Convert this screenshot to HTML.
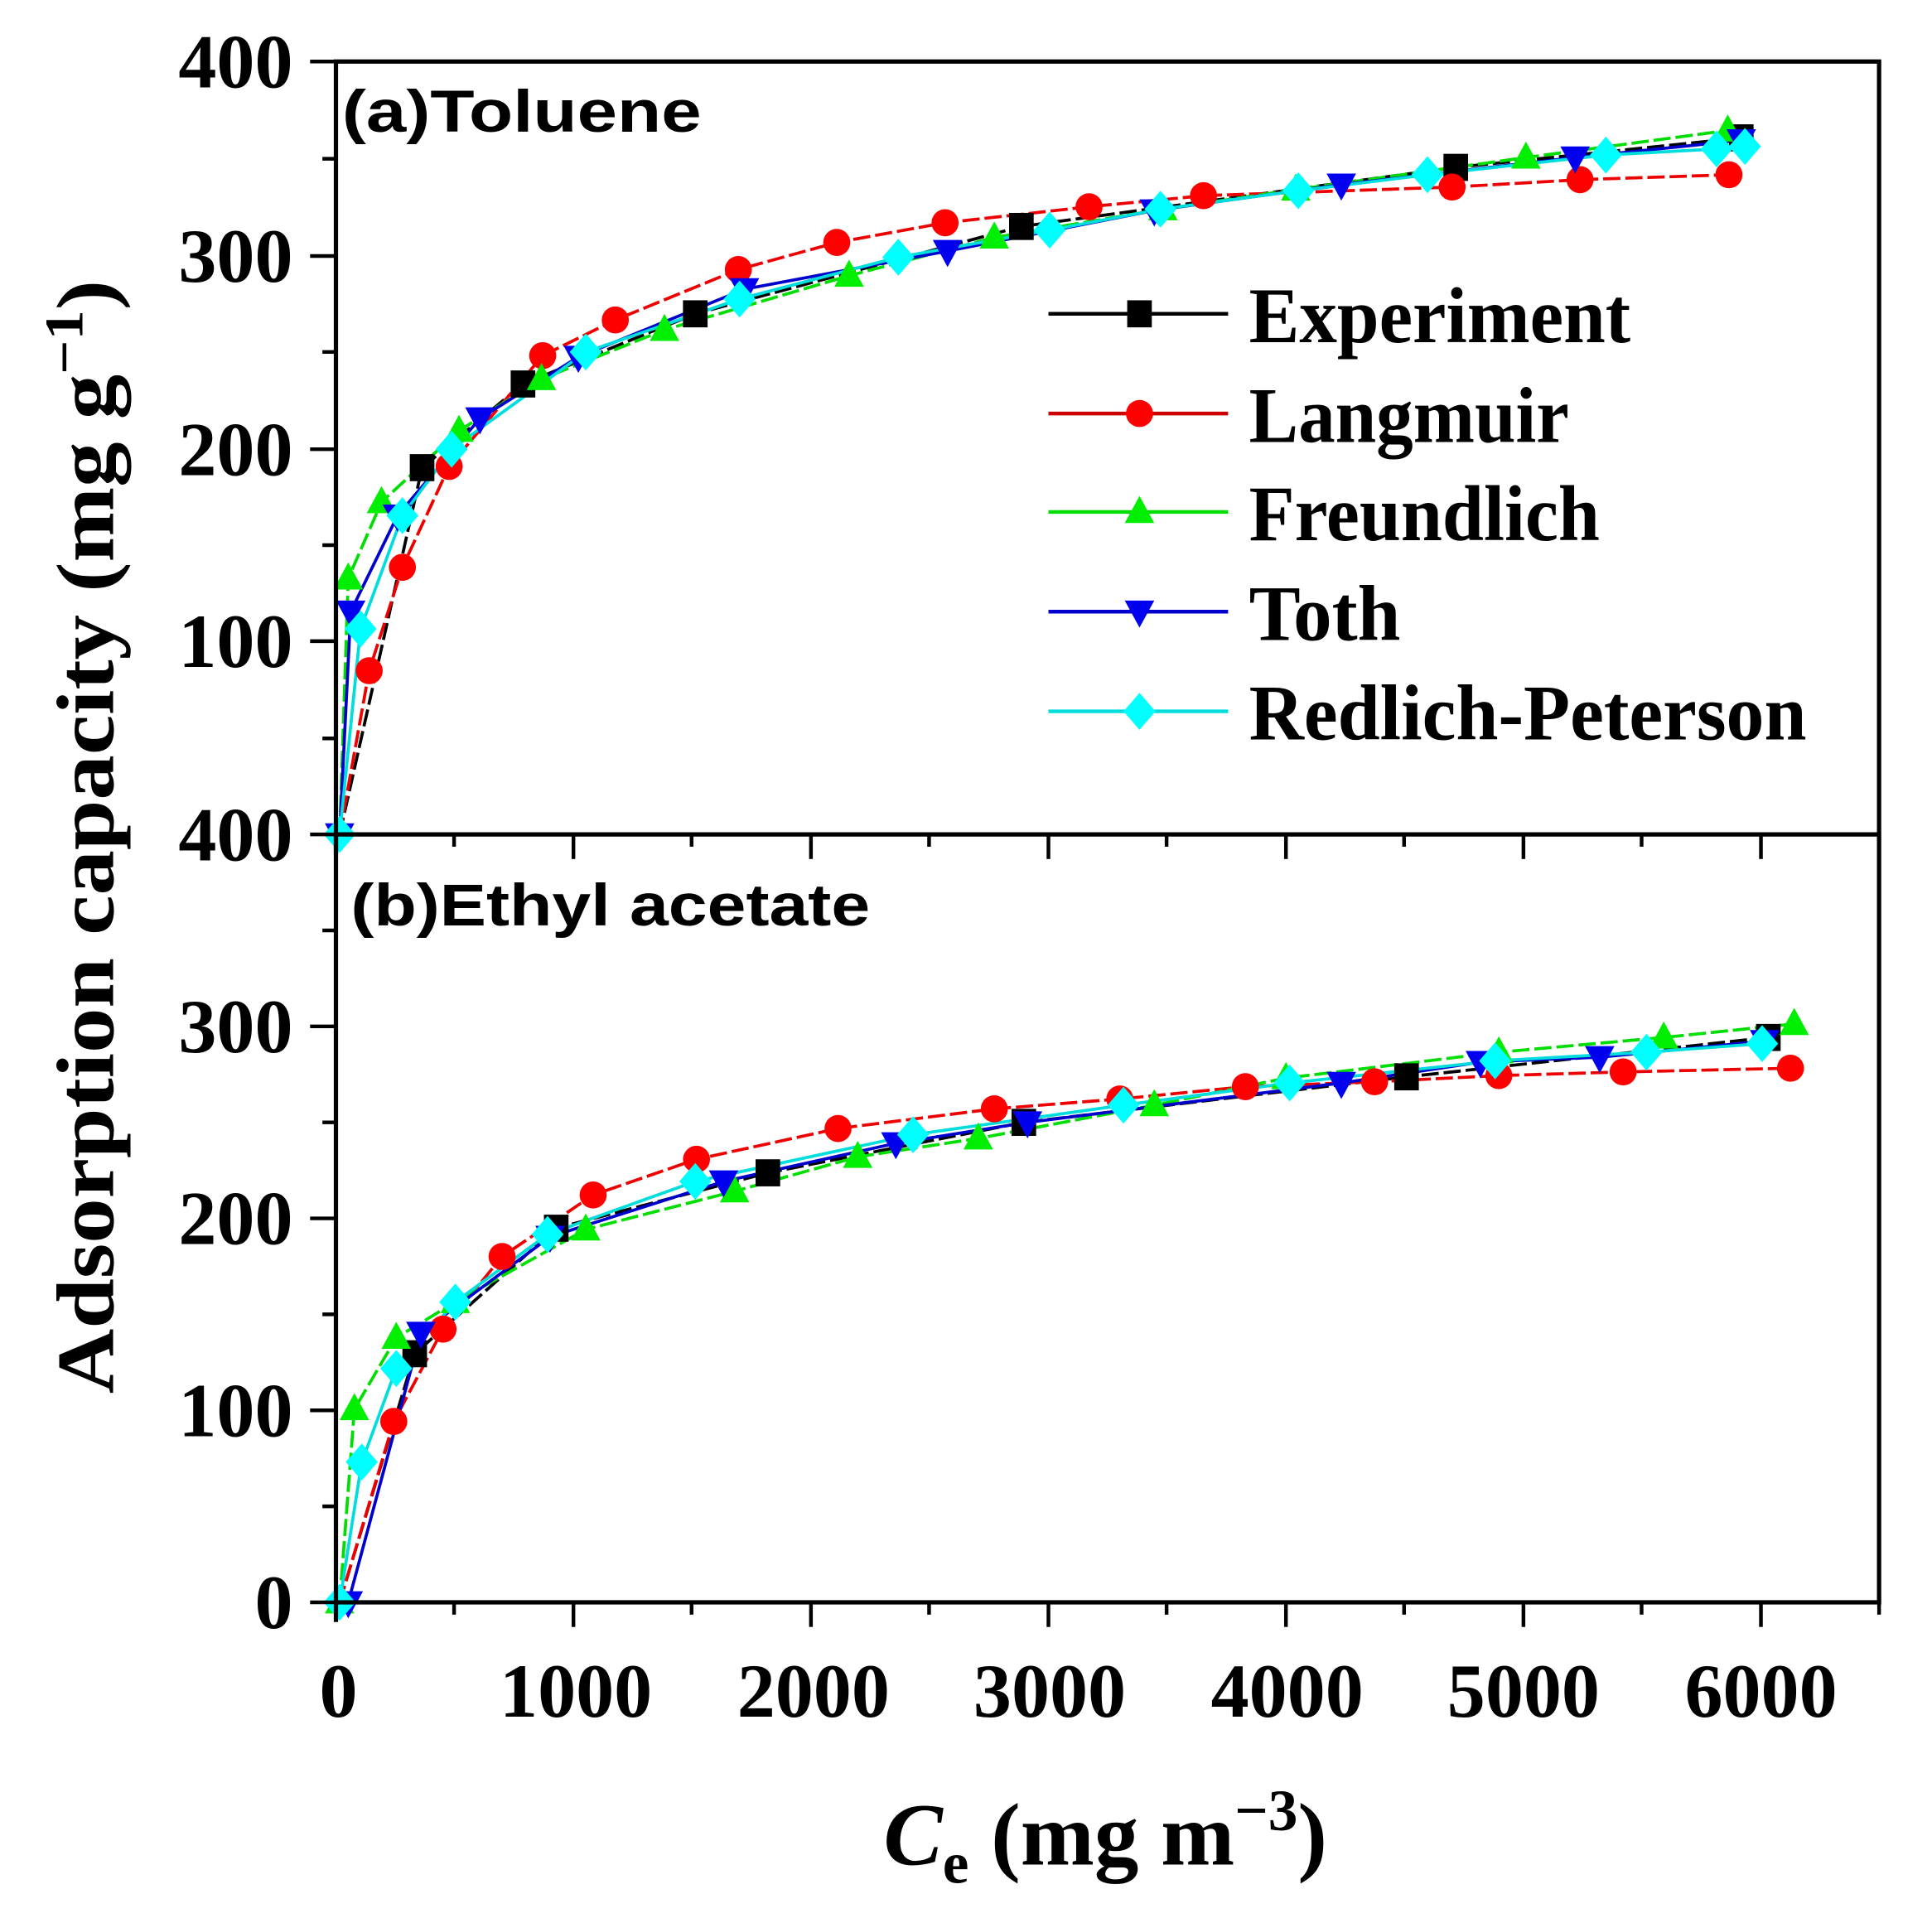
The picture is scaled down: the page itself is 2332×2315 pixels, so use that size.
<!DOCTYPE html>
<html><head><meta charset="utf-8"><style>html,body{margin:0;padding:0;background:#fff}svg{display:block}</style></head>
<body>
<svg width="2332" height="2315" viewBox="0 0 1570 1558.5" preserveAspectRatio="none" xmlns="http://www.w3.org/2000/svg">
<defs>
<rect id="sq" x="-10" y="-11" width="20" height="22" fill="#000"/>
<circle id="ci" r="11" fill="#f00"/>
<polygon id="tu" points="0,-13 12,9 -12,9" fill="#0e0"/>
<polygon id="td" points="0,13 12,-9 -12,-9" fill="#00e"/>
<polygon id="di" points="0,-15 13,0 0,15 -13,0" fill="#0ff"/>
</defs>
<g fill="none" stroke-width="2.5">
<polyline stroke="#000" stroke-dasharray="14 4" points="276,678 343,380 425,312 565,255 830,184 1183,136 1415,112"/>
<polyline stroke="#e00" stroke-dasharray="14 4" points="276,678 300,545 327,461 365,379 441,289 500,260 600,219 680,197 768,181 885,168 978,159 1180,152 1284,146 1405,142"/>
<polyline stroke="#0d0" stroke-dasharray="14 4" points="276,678 283,470 310,408 373,350 440,308 540,268 690,224 808,193 945,170 1053,154 1240,128 1404,106"/>
<polyline stroke="#00c" points="276,678 285,497 323,419 390,340 470,290 605,235 770,204 938,171 1090,150 1280,128 1415,114"/>
<polyline stroke="#0dd" points="276,678 293,511 327,419 367,365 476,286 601,243 730,209 853,187 943,170 1055,155 1160,142 1305,126 1395,121 1418,119"/>
<polyline stroke="#000" stroke-dasharray="14 4" points="276,1302 337,1100 452,998 624,953 832,912 1143,875 1437,843"/>
<polyline stroke="#e00" stroke-dasharray="14 4" points="276,1302 320,1155 360,1080 408,1021 482,971 566,942 681,917 808,901 910,893 1012,883 1117,879 1218,874 1319,871 1455,868"/>
<polyline stroke="#0d0" stroke-dasharray="14 4" points="276,1302 288,1145 322,1087 370,1058 476,999 597,968 697,940 795,925 938,898 1045,876 1218,855 1352,843 1458,832"/>
<polyline stroke="#00c" points="283,1302 342,1083 447,1005 588,960 728,929 835,912 1090,880 1203,863 1300,859 1434,846"/>
<polyline stroke="#0dd" points="276,1302 294,1188 322,1112 370,1058 445,1003 565,960 742,922 913,898 1048,880 1215,862 1338,855 1432,848"/>
</g>
<g>
<use href="#sq" x="343" y="380"/><use href="#sq" x="425" y="312"/><use href="#sq" x="565" y="255"/><use href="#sq" x="830" y="184"/><use href="#sq" x="1183" y="136"/><use href="#sq" x="1415" y="112"/>
<use href="#ci" x="300" y="545"/><use href="#ci" x="327" y="461"/><use href="#ci" x="365" y="379"/><use href="#ci" x="441" y="289"/><use href="#ci" x="500" y="260"/><use href="#ci" x="600" y="219"/><use href="#ci" x="680" y="197"/><use href="#ci" x="768" y="181"/><use href="#ci" x="885" y="168"/><use href="#ci" x="978" y="159"/><use href="#ci" x="1180" y="152"/><use href="#ci" x="1284" y="146"/><use href="#ci" x="1405" y="142"/>
<use href="#tu" x="283" y="470"/><use href="#tu" x="310" y="408"/><use href="#tu" x="373" y="350"/><use href="#tu" x="440" y="308"/><use href="#tu" x="540" y="268"/><use href="#tu" x="690" y="224"/><use href="#tu" x="808" y="193"/><use href="#tu" x="945" y="170"/><use href="#tu" x="1053" y="154"/><use href="#tu" x="1240" y="128"/><use href="#tu" x="1404" y="106"/>
<use href="#td" x="276" y="678"/><use href="#td" x="285" y="497"/><use href="#td" x="323" y="419"/><use href="#td" x="390" y="340"/><use href="#td" x="470" y="290"/><use href="#td" x="605" y="235"/><use href="#td" x="770" y="204"/><use href="#td" x="938" y="171"/><use href="#td" x="1090" y="150"/><use href="#td" x="1280" y="128"/><use href="#td" x="1415" y="114"/>
<use href="#di" x="276" y="678"/><use href="#di" x="293" y="511"/><use href="#di" x="327" y="419"/><use href="#di" x="367" y="365"/><use href="#di" x="476" y="286"/><use href="#di" x="601" y="243"/><use href="#di" x="730" y="209"/><use href="#di" x="853" y="187"/><use href="#di" x="943" y="170"/><use href="#di" x="1055" y="155"/><use href="#di" x="1160" y="142"/><use href="#di" x="1305" y="126"/><use href="#di" x="1395" y="121"/><use href="#di" x="1418" y="119"/>
</g>
<g>
<use href="#sq" x="337" y="1100"/><use href="#sq" x="452" y="998"/><use href="#sq" x="624" y="953"/><use href="#sq" x="832" y="912"/><use href="#sq" x="1143" y="875"/><use href="#sq" x="1437" y="843"/>
<use href="#ci" x="320" y="1155"/><use href="#ci" x="360" y="1080"/><use href="#ci" x="408" y="1021"/><use href="#ci" x="482" y="971"/><use href="#ci" x="566" y="942"/><use href="#ci" x="681" y="917"/><use href="#ci" x="808" y="901"/><use href="#ci" x="910" y="893"/><use href="#ci" x="1012" y="883"/><use href="#ci" x="1117" y="879"/><use href="#ci" x="1218" y="874"/><use href="#ci" x="1319" y="871"/><use href="#ci" x="1455" y="868"/>
<use href="#tu" x="276" y="1302"/><use href="#tu" x="288" y="1145"/><use href="#tu" x="322" y="1087"/><use href="#tu" x="370" y="1058"/><use href="#tu" x="476" y="999"/><use href="#tu" x="597" y="968"/><use href="#tu" x="697" y="940"/><use href="#tu" x="795" y="925"/><use href="#tu" x="938" y="898"/><use href="#tu" x="1045" y="876"/><use href="#tu" x="1218" y="855"/><use href="#tu" x="1352" y="843"/><use href="#tu" x="1458" y="832"/>
<use href="#td" x="283" y="1302"/><use href="#td" x="342" y="1083"/><use href="#td" x="447" y="1005"/><use href="#td" x="588" y="960"/><use href="#td" x="728" y="929"/><use href="#td" x="835" y="912"/><use href="#td" x="1090" y="880"/><use href="#td" x="1203" y="863"/><use href="#td" x="1300" y="859"/><use href="#td" x="1434" y="846"/>
<use href="#di" x="276" y="1302"/><use href="#di" x="294" y="1188"/><use href="#di" x="322" y="1112"/><use href="#di" x="370" y="1058"/><use href="#di" x="445" y="1003"/><use href="#di" x="565" y="960"/><use href="#di" x="742" y="922"/><use href="#di" x="913" y="898"/><use href="#di" x="1048" y="880"/><use href="#di" x="1215" y="862"/><use href="#di" x="1338" y="855"/><use href="#di" x="1432" y="848"/>
</g>
<g stroke="#000" stroke-width="3.5" fill="none">
<rect x="273" y="50" width="1254" height="1252"/>
<line x1="273" y1="678" x2="1527" y2="678"/>
<line x1="273" y1="1302" x2="273" y2="1318"/>
<line x1="273" y1="678" x2="273" y2="694"/>
</g>
<g stroke="#000" stroke-width="3">
<line x1="252" y1="50" x2="273" y2="50"/><line x1="252" y1="208" x2="273" y2="208"/><line x1="252" y1="365" x2="273" y2="365"/><line x1="252" y1="521" x2="273" y2="521"/><line x1="252" y1="678" x2="273" y2="678"/>
<line x1="252" y1="834" x2="273" y2="834"/><line x1="252" y1="990" x2="273" y2="990"/><line x1="252" y1="1146" x2="273" y2="1146"/><line x1="252" y1="1302" x2="273" y2="1302"/>
<line x1="262" y1="129" x2="273" y2="129"/><line x1="262" y1="286" x2="273" y2="286"/><line x1="262" y1="443" x2="273" y2="443"/><line x1="262" y1="600" x2="273" y2="600"/>
<line x1="262" y1="756" x2="273" y2="756"/><line x1="262" y1="912" x2="273" y2="912"/><line x1="262" y1="1068" x2="273" y2="1068"/><line x1="262" y1="1224" x2="273" y2="1224"/>
<line x1="466" y1="1302" x2="466" y2="1322"/><line x1="659" y1="1302" x2="659" y2="1322"/><line x1="852" y1="1302" x2="852" y2="1322"/><line x1="1045" y1="1302" x2="1045" y2="1322"/><line x1="1238" y1="1302" x2="1238" y2="1322"/><line x1="1431" y1="1302" x2="1431" y2="1322"/>
<line x1="369" y1="1302" x2="369" y2="1312"/><line x1="562" y1="1302" x2="562" y2="1312"/><line x1="755" y1="1302" x2="755" y2="1312"/><line x1="948" y1="1302" x2="948" y2="1312"/><line x1="1141" y1="1302" x2="1141" y2="1312"/><line x1="1334" y1="1302" x2="1334" y2="1312"/><line x1="1527" y1="1302" x2="1527" y2="1312"/>
<line x1="466" y1="678" x2="466" y2="698"/><line x1="659" y1="678" x2="659" y2="698"/><line x1="852" y1="678" x2="852" y2="698"/><line x1="1045" y1="678" x2="1045" y2="698"/><line x1="1238" y1="678" x2="1238" y2="698"/><line x1="1431" y1="678" x2="1431" y2="698"/>
<line x1="369" y1="678" x2="369" y2="688"/><line x1="562" y1="678" x2="562" y2="688"/><line x1="755" y1="678" x2="755" y2="688"/><line x1="948" y1="678" x2="948" y2="688"/><line x1="1141" y1="678" x2="1141" y2="688"/><line x1="1334" y1="678" x2="1334" y2="688"/>
</g>
<g font-family="Liberation Serif, serif" font-weight="bold" font-size="62" fill="#000" text-anchor="end">
<text x="238" y="71">400</text><text x="238" y="229">300</text><text x="238" y="386">200</text><text x="238" y="542">100</text><text x="238" y="699">400</text>
<text x="238" y="855">300</text><text x="238" y="1011">200</text><text x="238" y="1167">100</text><text x="238" y="1323">0</text>
</g>
<g font-family="Liberation Serif, serif" font-weight="bold" font-size="62" fill="#000" text-anchor="middle">
<text x="275" y="1395">0</text><text x="468" y="1395">1000</text><text x="661" y="1395">2000</text><text x="853" y="1395">3000</text><text x="1046" y="1395">4000</text><text x="1238" y="1395">5000</text><text x="1431" y="1395">6000</text>
</g>
<g font-family="Liberation Sans, sans-serif" font-weight="bold" font-size="48" fill="#000">
<text x="278" y="107" textLength="292" lengthAdjust="spacingAndGlyphs">(a)Toluene</text>
<text x="285" y="752" textLength="422" lengthAdjust="spacingAndGlyphs">(b)Ethyl acetate</text>
</g>
<g stroke-width="3">
<line x1="852" y1="255" x2="998" y2="255" stroke="#000"/>
<line x1="852" y1="336" x2="998" y2="336" stroke="#c00"/>
<line x1="852" y1="416" x2="998" y2="416" stroke="#0d0"/>
<line x1="852" y1="497" x2="998" y2="497" stroke="#00c"/>
<line x1="852" y1="578" x2="998" y2="578" stroke="#0dd"/>
</g>
<use href="#sq" x="926" y="255"/><use href="#ci" x="926" y="336"/><use href="#tu" x="926" y="416"/><use href="#td" x="926" y="497"/><use href="#di" x="926" y="578"/>
<g font-family="Liberation Serif, serif" font-weight="bold" font-size="64" fill="#000">
<text x="1015" y="278" textLength="310" lengthAdjust="spacingAndGlyphs">Experiment</text>
<text x="1015" y="359" textLength="260" lengthAdjust="spacingAndGlyphs">Langmuir</text>
<text x="1015" y="439" textLength="285" lengthAdjust="spacingAndGlyphs">Freundlich</text>
<text x="1015" y="520" textLength="123" lengthAdjust="spacingAndGlyphs">Toth</text>
<text x="1015" y="601" textLength="453" lengthAdjust="spacingAndGlyphs">Redlich-Peterson</text>
</g>
<text transform="translate(92,680) rotate(-90)" text-anchor="middle" font-family="Liberation Serif, serif" font-weight="bold" font-size="66" textLength="905" lengthAdjust="spacingAndGlyphs">Adsorption capacity (mg g<tspan font-size="44" dy="-25">−1</tspan><tspan dy="25">)</tspan></text>
<text x="718" y="1515" font-family="Liberation Serif, serif" font-weight="bold" font-size="72"><tspan font-style="italic">C</tspan><tspan font-size="48" dy="15">e</tspan><tspan dy="-15"> (mg m</tspan><tspan font-size="48" dy="-28">−3</tspan><tspan dy="28">)</tspan></text>
</svg>
</body></html>
